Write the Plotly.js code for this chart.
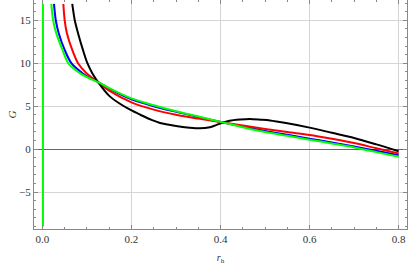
<!DOCTYPE html>
<html><head><meta charset="utf-8">
<script src="https://cdn.plot.ly/plotly-3.0.1.min.js"></script>
<style>html,body{margin:0;padding:0;background:#fff}#c{width:409px;height:267px}</style>
</head><body><div id="c"></div>
<script>
// green series: vertical branch near r_h = 0, then gap, then main branch
const greenX = [0.0012, 0.0012, null, 0.020, 0.024, 0.031, 0.045, 0.058, 0.084, 0.105, 0.125, 0.15, 0.20, 0.25, 0.30, 0.35, 0.406, 0.45, 0.50, 0.55, 0.60, 0.65, 0.70, 0.75, 0.80];
const greenY = [-9.0, 16.9, null, 16.9, 15.0, 13.5, 11.55, 10.0, 8.84, 8.25, 7.8, 7.1, 5.9, 5.1, 4.4, 3.8, 3.1, 2.55, 2.0, 1.55, 1.1, 0.65, 0.2, -0.35, -0.9];
const blueX = [0.026, 0.030, 0.0366, 0.050, 0.065, 0.090, 0.108, 0.125, 0.15, 0.20, 0.25, 0.30, 0.35, 0.406, 0.45, 0.50, 0.55, 0.60, 0.65, 0.70, 0.75, 0.80];
const blueY = [16.9, 15.0, 13.5, 11.55, 10.0, 8.84, 8.25, 7.8, 7.05, 5.8, 5.0, 4.35, 3.75, 3.1, 2.62, 2.12, 1.67, 1.22, 0.77, 0.3, -0.2, -0.7];
const redX = [0.047, 0.050, 0.055, 0.067, 0.080, 0.099, 0.125, 0.15, 0.20, 0.25, 0.30, 0.35, 0.406, 0.45, 0.50, 0.55, 0.60, 0.65, 0.70, 0.75, 0.80];
const redY = [16.9, 15.0, 13.5, 11.55, 10.0, 8.84, 7.8, 6.8, 5.45, 4.6, 4.0, 3.55, 3.1, 2.75, 2.35, 1.98, 1.65, 1.2, 0.7, 0.1, -0.5];
const blackX = [0.067, 0.0726, 0.080, 0.091, 0.101, 0.112, 0.125, 0.15, 0.175, 0.20, 0.22, 0.245, 0.264, 0.30, 0.33, 0.353, 0.376, 0.39, 0.406, 0.42, 0.444, 0.466, 0.49, 0.511, 0.55, 0.60, 0.65, 0.70, 0.75, 0.80];
const blackY = [16.9, 15.0, 13.5, 11.55, 10.0, 8.84, 7.8, 6.2, 5.25, 4.5, 4.0, 3.4, 3.05, 2.7, 2.5, 2.42, 2.55, 2.8, 3.1, 3.3, 3.44, 3.5, 3.42, 3.33, 3.0, 2.5, 1.9, 1.3, 0.55, -0.25];
const xTicks = [0.0, 0.2, 0.4, 0.6, 0.8];
const xTickText = ["0.0", "0.2", "0.4", "0.6", "0.8"];
const yTicks = [-5, 0, 5, 10, 15];
const yTickText = ["\u22125", "0", "5", "10", "15"];

const XR = [-0.0189, 0.8187], YR = [-9.30, 17.36];
const SERIF = "Liberation Serif";
const tf = {family: SERIF, size: 11, color: "#333"};
const line = (x, y, c) => ({x, y, type: "scatter", mode: "lines", line: {color: c, width: 2, shape: "spline", smoothing: 0.8}, connectgaps: false, hoverinfo: "skip", showlegend: false});
const traces = [
  line(blueX, blueY, "#0000ff"),
  line(redX, redY, "#ff0000"),
  line(blackX, blackY, "#000000"),
  line(greenX, greenY, "#00ff00"),
  {x: [null], y: [null], xaxis: "x2", yaxis: "y", type: "scatter", mode: "lines", showlegend: false}
];
const layout = {
  width: 409, height: 267,
  margin: {l: 34, r: 2, t: 0, b: 38},
  paper_bgcolor: "#fff", plot_bgcolor: "#fff",
  showlegend: false,
  xaxis: {range: XR, tickvals: xTicks, ticktext: xTickText, ticks: "inside", ticklen: 4, tickcolor: "#888",
    showline: true, linecolor: "#888", linewidth: 1, mirror: false, showgrid: true, gridcolor: "#d4d4d4", gridwidth: 1,
    zeroline: false, tickfont: tf,
    minor: {dtick: 0.05, tick0: 0, ticks: "inside", ticklen: 2, tickcolor: "#888", showgrid: false},
    title: {text: "<i>r</i><sub>h</sub>", font: {family: SERIF, size: 10, color: "#333"}, standoff: 9}},
  xaxis2: {range: XR, overlaying: "x", side: "top", anchor: "y", tickvals: xTicks, ticks: "inside", ticklen: 4, tickcolor: "#888",
    showticklabels: false, showline: false, showgrid: false, zeroline: false,
    minor: {dtick: 0.05, tick0: 0, ticks: "inside", ticklen: 2, tickcolor: "#888", showgrid: false}},
  yaxis: {range: YR, tickvals: yTicks, ticktext: yTickText, ticks: "inside", ticklen: 4, tickcolor: "#888",
    showline: true, linecolor: "#888", linewidth: 1, mirror: "ticks", showgrid: true, gridcolor: "#d4d4d4", gridwidth: 1,
    zeroline: true, zerolinecolor: "#666", zerolinewidth: 1, tickfont: tf,
    minor: {dtick: 1, tick0: 0, ticks: "inside", ticklen: 2, tickcolor: "#888", showgrid: false},
    title: {text: "<i>G</i>", font: {family: SERIF, size: 11, color: "#333"}, standoff: 0}}
};
Plotly.newPlot("c", traces, layout, {staticPlot: true, displayModeBar: false});
</script></body></html>
